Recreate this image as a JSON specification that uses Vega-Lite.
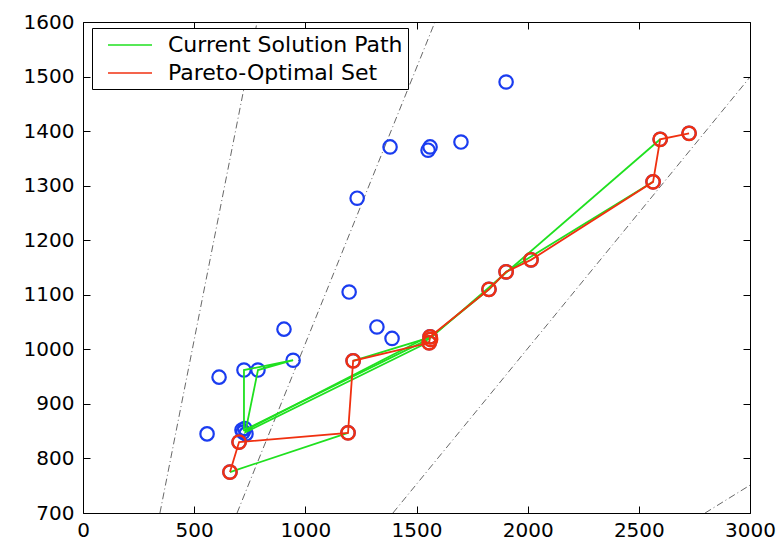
{
  "$schema": "https://vega.github.io/schema/vega-lite/v6.json",
  "width": 667,
  "height": 491,
  "autosize": "none",
  "padding": {"left": 83, "top": 22, "right": 34, "bottom": 27},
  "background": "white",
  "config": {
    "view": {"stroke": "black", "strokeWidth": 1},
    "axis": {
      "labelFont": "DejaVu Sans",
      "labelFontSize": 20,
      "labelColor": "black",
      "labelFlush": false,
      "labelOverlap": false,
      "format": "d",
      "domain": false,
      "grid": false,
      "tickColor": "black",
      "tickWidth": 1,
      "tickSize": -7,
      "title": null
    }
  },
  "datasets": {
    "refs": [
      {"line": "a", "x": 346, "y": 700}, {"line": "a", "x": 783, "y": 1600},
      {"line": "b", "x": 693, "y": 700}, {"line": "b", "x": 1583, "y": 1600},
      {"line": "c", "x": 1394, "y": 700}, {"line": "c", "x": 3000, "y": 1499},
      {"line": "d", "x": 2798, "y": 700}, {"line": "d", "x": 3000, "y": 751}
    ],
    "blue": [
      {"x": 558, "y": 845}, {"x": 612, "y": 949}, {"x": 724, "y": 962}, {"x": 787, "y": 962},
      {"x": 945, "y": 980}, {"x": 904, "y": 1037}, {"x": 1197, "y": 1105}, {"x": 1233, "y": 1277},
      {"x": 1322, "y": 1041}, {"x": 1390, "y": 1020}, {"x": 1381, "y": 1371}, {"x": 1552, "y": 1365},
      {"x": 1561, "y": 1371}, {"x": 1700, "y": 1380}, {"x": 1903, "y": 1490},
      {"x": 720, "y": 848}, {"x": 728, "y": 855}, {"x": 733, "y": 845}, {"x": 715, "y": 852},
      {"x": 661, "y": 775}, {"x": 702, "y": 830}, {"x": 1192, "y": 847}, {"x": 1215, "y": 979},
      {"x": 1557, "y": 1012}, {"x": 1561, "y": 1023}, {"x": 1826, "y": 1110}, {"x": 1903, "y": 1142},
      {"x": 2015, "y": 1164}, {"x": 2564, "y": 1307}, {"x": 2596, "y": 1385}, {"x": 2726, "y": 1396}
    ],
    "paths": [
      {"series": "Current Solution Path", "g": "g1", "o": 1, "x": 661, "y": 775},
      {"series": "Current Solution Path", "g": "g1", "o": 2, "x": 1192, "y": 847},
      {"series": "Current Solution Path", "g": "g2", "o": 1, "x": 724, "y": 850},
      {"series": "Current Solution Path", "g": "g2", "o": 2, "x": 724, "y": 962},
      {"series": "Current Solution Path", "g": "g2", "o": 3, "x": 945, "y": 980},
      {"series": "Current Solution Path", "g": "g2", "o": 4, "x": 787, "y": 962},
      {"series": "Current Solution Path", "g": "g2", "o": 5, "x": 730, "y": 848},
      {"series": "Current Solution Path", "g": "g2", "o": 6, "x": 1557, "y": 1014},
      {"series": "Current Solution Path", "g": "g3", "o": 1, "x": 735, "y": 854},
      {"series": "Current Solution Path", "g": "g3", "o": 2, "x": 1561, "y": 1020},
      {"series": "Current Solution Path", "g": "g4", "o": 1, "x": 728, "y": 851},
      {"series": "Current Solution Path", "g": "g4", "o": 2, "x": 1560, "y": 1025},
      {"series": "Current Solution Path", "g": "g5", "o": 1, "x": 1215, "y": 979},
      {"series": "Current Solution Path", "g": "g5", "o": 2, "x": 1561, "y": 1022},
      {"series": "Current Solution Path", "g": "g5", "o": 3, "x": 1826, "y": 1110},
      {"series": "Current Solution Path", "g": "g5", "o": 4, "x": 1903, "y": 1142},
      {"series": "Current Solution Path", "g": "g5", "o": 5, "x": 2564, "y": 1307},
      {"series": "Current Solution Path", "g": "g6", "o": 1, "x": 1561, "y": 1020},
      {"series": "Current Solution Path", "g": "g6", "o": 2, "x": 2596, "y": 1385},
      {"series": "Pareto-Optimal Set", "g": "r", "o": 1, "x": 661, "y": 775},
      {"series": "Pareto-Optimal Set", "g": "r", "o": 2, "x": 702, "y": 830},
      {"series": "Pareto-Optimal Set", "g": "r", "o": 3, "x": 1192, "y": 847},
      {"series": "Pareto-Optimal Set", "g": "r", "o": 4, "x": 1215, "y": 979},
      {"series": "Pareto-Optimal Set", "g": "r", "o": 5, "x": 1557, "y": 1012},
      {"series": "Pareto-Optimal Set", "g": "r", "o": 6, "x": 1561, "y": 1023},
      {"series": "Pareto-Optimal Set", "g": "r", "o": 7, "x": 1826, "y": 1110},
      {"series": "Pareto-Optimal Set", "g": "r", "o": 8, "x": 1903, "y": 1142},
      {"series": "Pareto-Optimal Set", "g": "r", "o": 9, "x": 2015, "y": 1164},
      {"series": "Pareto-Optimal Set", "g": "r", "o": 10, "x": 2564, "y": 1307},
      {"series": "Pareto-Optimal Set", "g": "r", "o": 11, "x": 2596, "y": 1385},
      {"series": "Pareto-Optimal Set", "g": "r", "o": 12, "x": 2726, "y": 1396}
    ],
    "red": [
      {"x": 661, "y": 775}, {"x": 702, "y": 830}, {"x": 1192, "y": 847}, {"x": 1215, "y": 979},
      {"x": 1557, "y": 1012}, {"x": 1561, "y": 1023}, {"x": 1563, "y": 1018}, {"x": 1826, "y": 1110},
      {"x": 1903, "y": 1142}, {"x": 2015, "y": 1164}, {"x": 2564, "y": 1307}, {"x": 2596, "y": 1385},
      {"x": 2726, "y": 1396}
    ]
  },
  "layer": [
    {
      "data": {"name": "refs"},
      "mark": {"type": "line", "color": "black", "strokeWidth": 0.6, "strokeDash": [7, 3, 1, 3], "clip": true},
      "encoding": {
        "x": {"field": "x", "type": "quantitative", "scale": {"domain": [0, 3000], "nice": false, "zero": false},
              "axis": {"orient": "bottom", "values": [0, 500, 1000, 1500, 2000, 2500, 3000], "labelPadding": 14}},
        "y": {"field": "y", "type": "quantitative", "scale": {"domain": [700, 1600], "nice": false, "zero": false},
              "axis": {"orient": "left", "values": [700, 800, 900, 1000, 1100, 1200, 1300, 1400, 1500, 1600], "labelPadding": 16}},
        "detail": {"field": "line"}
      }
    },
    {
      "data": {"name": "blue"},
      "mark": {"type": "point", "shape": "circle", "filled": false, "color": "#1a3cf0", "strokeWidth": 2.2, "size": 180, "opacity": 1},
      "encoding": {
        "x": {"field": "x", "type": "quantitative", "axis": {"orient": "top", "labels": false, "values": [0, 500, 1000, 1500, 2000, 2500, 3000]}},
        "y": {"field": "y", "type": "quantitative", "axis": {"orient": "right", "labels": false, "values": [700, 800, 900, 1000, 1100, 1200, 1300, 1400, 1500, 1600]}}
      }
    },
    {
      "data": {"name": "paths"},
      "mark": {"type": "line", "strokeWidth": 1.8},
      "encoding": {
        "x": {"field": "x", "type": "quantitative", "axis": null},
        "y": {"field": "y", "type": "quantitative", "axis": null},
        "detail": {"field": "g"},
        "order": {"field": "o", "type": "quantitative"},
        "color": {
          "field": "series", "type": "nominal",
          "scale": {"domain": ["Current Solution Path", "Pareto-Optimal Set"], "range": ["#1fe01f", "#f03010"]},
          "legend": {
            "title": null, "orient": "none", "legendX": 9, "legendY": 6,
            "strokeColor": "black", "fillColor": "white", "padding": 5, "cornerRadius": 0,
            "symbolType": "M-2,0H2", "symbolSize": 484, "symbolStrokeWidth": 1.5, "symbolOffset": 21,
            "labelFont": "DejaVu Sans", "labelFontSize": 22, "labelColor": "black", "labelLimit": 400,
            "labelOffset": 26, "rowPadding": 5
          }
        }
      }
    },
    {
      "data": {"name": "red"},
      "mark": {"type": "point", "shape": "circle", "filled": false, "color": "#f03010", "strokeWidth": 2.4, "size": 180, "opacity": 1},
      "encoding": {
        "x": {"field": "x", "type": "quantitative", "axis": null},
        "y": {"field": "y", "type": "quantitative", "axis": null}
      }
    }
  ],
  "resolve": {"axis": {"x": "independent", "y": "independent"}}
}
